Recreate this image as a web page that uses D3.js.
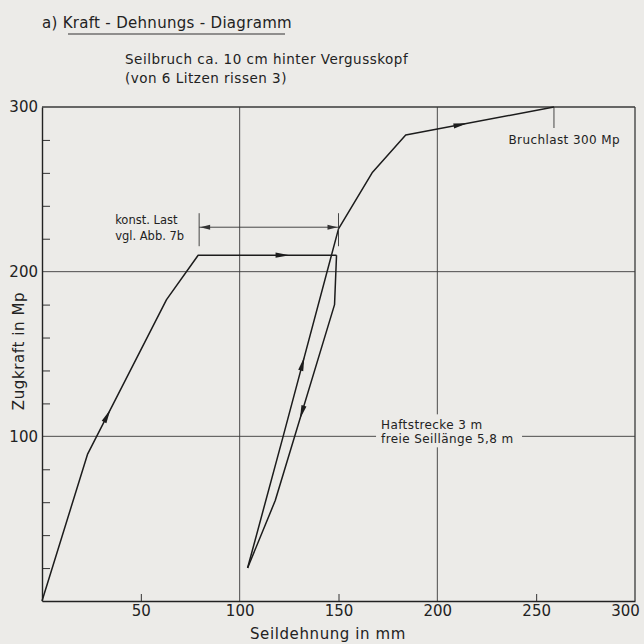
<!DOCTYPE html>
<html>
<head>
<meta charset="utf-8">
<script src="https://cdn.jsdelivr.net/npm/d3@7"></script>
<style>
  html, body { margin: 0; padding: 0; background: #ecebe8; }
  svg { display: block; }
  text { font-family: "DejaVu Sans", sans-serif; fill: #222; }
</style>
</head>
<body>
<div class="chart"></div>
<script>
// Kraft-Dehnungs-Diagramm, Werte
const xGrid = [100, 200, 300];
const yGrid = [100, 200, 300];
const xLabels = [50, 100, 150, 200, 250, 300];
const yLabels = [100, 200, 300];
const xMinor = [50, 150, 250];
const yMinor = [20, 40, 60, 80, 120, 140, 160, 180, 220, 240, 260, 280];

// Belastung, Entlastung, Wiederbelastung bis Bruch  [Dehnung mm, Kraft Mp]
const loading = [[0, 0], [23, 89], [63, 183], [79, 210], [149, 210]];
const unloading = [[149, 210], [148, 180], [118, 61], [104, 20]];
const reloading = [[104, 20], [122, 100], [150, 226], [167, 260], [184, 283], [259, 300]];

// Pfeilspitzen: Kurve, Segment, Anteil entlang des Segments
const arrows = [
	{ curve: loading, seg: 1, t: 0.25 },
	{ curve: loading, seg: 3, t: 0.61 },
	{ curve: reloading, seg: 1, t: 0.35 },
	{ curve: unloading, seg: 1, t: 0.55 },
	{ curve: reloading, seg: 4, t: 0.37 }
];

// Massline "konst. Last" und Bruchlast
const constLoad = { from: 79.5, to: 150, y: 227 };
const breakLoad = { x: 259, y: 300 };

const W = 644, H = 644;
const margin = { top: 107, right: 9, bottom: 43, left: 42 };
const width = W - margin.left - margin.right;
const height = H - margin.top - margin.bottom;

const svg = d3.select('.chart')
	.append('svg')
		.attr('width', W)
		.attr('height', H);

svg.append('rect').attr('width', W).attr('height', H).attr('fill', '#ecebe8');

const g = svg.append('g')
	.attr('transform', `translate(${margin.left}, ${margin.top})`);

const x = d3.scaleLinear().domain([0, 300]).range([0, width]);
const y = d3.scaleLinear().domain([0, 300]).range([height, 0]);

// grid lines
g.selectAll('.vgrid')
	.data(xGrid)
	.enter()
	.append('line')
		.attr('x1', d => x(d)).attr('x2', d => x(d))
		.attr('y1', y(0)).attr('y2', y(300))
		.attr('stroke', '#3a3a3a')
		.attr('stroke-width', d => d === 300 ? 1.3 : 0.9);

g.selectAll('.hgrid')
	.data(yGrid)
	.enter()
	.append('line')
		.attr('x1', x(0)).attr('x2', x(300))
		.attr('y1', d => y(d)).attr('y2', d => y(d))
		.attr('stroke', '#3a3a3a')
		.attr('stroke-width', d => d === 300 ? 1.3 : 0.9);

// inner ticks
const yTicks = d3.axisRight(y).tickValues(yMinor).tickSize(8).tickFormat('');
g.append('g').call(yTicks)
	.call(a => a.select('.domain').remove())
	.selectAll('line').attr('stroke', '#333').attr('stroke-width', 1);

const xTicks = d3.axisTop(x).tickValues(xMinor).tickSize(7).tickFormat('');
g.append('g').attr('transform', `translate(0, ${height})`).call(xTicks)
	.call(a => a.select('.domain').remove())
	.selectAll('line').attr('stroke', '#333').attr('stroke-width', 1);

// axis lines + labels
const yAxis = d3.axisLeft(y).tickValues(yLabels).tickSize(0).tickPadding(4);
g.append('g').call(yAxis)
	.call(a => a.select('.domain').attr('stroke', '#222').attr('stroke-width', 1.4))
	.selectAll('text')
		.style('font-size', '15px')
		.style('fill', '#222');

const xAxis = d3.axisBottom(x).tickValues(xLabels).tickSize(0).tickPadding(4);
g.append('g').attr('transform', `translate(0, ${height})`).call(xAxis)
	.call(a => a.select('.domain').attr('stroke', '#222').attr('stroke-width', 1.4))
	.selectAll('text')
		.style('font-size', '15px')
		.style('fill', '#222')
		.attr('dx', d => d === 300 ? -10 : 0);

// text box masking grid lines
const note = g.append('g').attr('transform', `translate(${x(170)}, ${y(100)})`);
note.append('rect')
	.attr('x', -2).attr('y', -22).attr('width', 146).attr('height', 33)
	.attr('fill', '#ecebe8');
note.append('text').attr('x', 3).attr('y', -7).style('font-size', '12px')
	.style('letter-spacing', '0.4px').text('Haftstrecke 3 m');
note.append('text').attr('x', 3).attr('y', 7).style('font-size', '12px')
	.style('letter-spacing', '0.4px').text('freie Seillänge 5,8 m');

// curves
const line = d3.line().x(d => x(d[0])).y(d => y(d[1]));
[loading, unloading, reloading].forEach(c => {
	g.append('path')
		.attr('d', line(c))
		.attr('fill', 'none')
		.attr('stroke', '#1c1c1c')
		.attr('stroke-width', 1.5)
		.attr('stroke-linejoin', 'round');
});

// arrow heads along the curves
arrows.forEach(a => {
	const p0 = a.curve[a.seg], p1 = a.curve[a.seg + 1];
	const x0 = x(p0[0]), y0 = y(p0[1]), x1 = x(p1[0]), y1 = y(p1[1]);
	const px = x0 + (x1 - x0) * a.t, py = y0 + (y1 - y0) * a.t;
	const ang = Math.atan2(y1 - y0, x1 - x0) * 180 / Math.PI;
	g.append('path')
		.attr('d', 'M7,0 L-7,-2.6 L-7,2.6 Z')
		.attr('transform', `translate(${px}, ${py}) rotate(${ang})`)
		.attr('fill', '#1c1c1c');
});

// dimension line "konst. Last"
const dim = g.append('g').attr('stroke', '#333');
dim.append('line')
	.attr('x1', x(constLoad.from)).attr('x2', x(constLoad.to))
	.attr('y1', y(constLoad.y)).attr('y2', y(constLoad.y))
	.attr('stroke-width', 0.9);
[constLoad.from, constLoad.to].forEach(v => {
	dim.append('line')
		.attr('x1', x(v)).attr('x2', x(v))
		.attr('y1', y(constLoad.y) - 14).attr('y2', y(constLoad.y) + 19)
		.attr('stroke-width', 0.9);
});
g.append('path')
	.attr('d', 'M0,0 L10,-2.5 L10,2.5 Z')
	.attr('transform', `translate(${x(constLoad.from) + 1}, ${y(constLoad.y)})`)
	.attr('fill', '#333');
g.append('path')
	.attr('d', 'M0,0 L-10,-2.5 L-10,2.5 Z')
	.attr('transform', `translate(${x(constLoad.to) - 1}, ${y(constLoad.y)})`)
	.attr('fill', '#333');
g.append('text').attr('x', x(37)).attr('y', y(constLoad.y) - 3)
	.style('font-size', '11.5px').text('konst. Last');
g.append('text').attr('x', x(37)).attr('y', y(constLoad.y) + 13)
	.style('font-size', '11.5px').text('vgl. Abb. 7b');

// Bruchlast marker
g.append('line')
	.attr('x1', x(breakLoad.x)).attr('x2', x(breakLoad.x))
	.attr('y1', y(breakLoad.y)).attr('y2', y(breakLoad.y) + 21)
	.attr('stroke', '#333').attr('stroke-width', 0.9);
g.append('text').attr('x', x(236)).attr('y', y(breakLoad.y) + 37)
	.style('font-size', '12px').style('letter-spacing', '0.4px')
	.text('Bruchlast 300 Mp');

// titles
svg.append('text').attr('x', 42).attr('y', 28)
	.style('font-size', '15px').style('letter-spacing', '0.3px')
	.text('a) Kraft - Dehnungs - Diagramm');
svg.append('line')
	.attr('x1', 68).attr('x2', 285).attr('y1', 34).attr('y2', 34)
	.attr('stroke', '#333').attr('stroke-width', 1.2);
svg.append('text').attr('x', 125).attr('y', 64)
	.style('font-size', '13.5px').style('letter-spacing', '0.5px')
	.text('Seilbruch ca. 10 cm hinter Vergusskopf');
svg.append('text').attr('x', 125).attr('y', 83)
	.style('font-size', '13.5px').style('letter-spacing', '0.5px')
	.text('(von 6 Litzen rissen 3)');

// axis titles
svg.append('text')
	.attr('transform', `translate(24, 351) rotate(-90)`)
	.style('text-anchor', 'middle')
	.style('font-size', '15px').style('letter-spacing', '0.6px')
	.text('Zugkraft in Mp');
svg.append('text').attr('x', 328).attr('y', 639)
	.style('text-anchor', 'middle')
	.style('font-size', '15px').style('letter-spacing', '0.6px')
	.text('Seildehnung in mm');
</script>
</body>
</html>
